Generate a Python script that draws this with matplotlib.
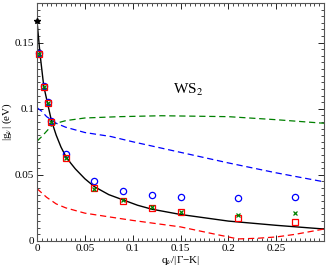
import numpy as np
import matplotlib.pyplot as plt
from matplotlib.ticker import MultipleLocator

plt.rcParams['font.family'] = ['Liberation Serif', 'DejaVu Serif']
plt.rcParams['mathtext.fontset'] = 'stix'

# computed points
q_pts = [0.002, 0.007, 0.011, 0.015, 0.03, 0.06, 0.09, 0.12, 0.15, 0.21, 0.27]
g_blue = [0.142, 0.117, 0.105, 0.091, 0.066, 0.0455, 0.038, 0.035, 0.0335, 0.0327, 0.033]
g_red = [0.1417, 0.1167, 0.1045, 0.090, 0.063, 0.040, 0.030, 0.025, 0.022, 0.0174, 0.0144]
g_green = [0.1417, 0.1167, 0.1045, 0.090, 0.063, 0.039, 0.031, 0.026, 0.022, 0.0197, 0.0212]

# model curves
q_black = [0.0, 0.003, 0.007, 0.011, 0.015, 0.02, 0.025, 0.03, 0.035, 0.04, 0.05, 0.06,
           0.075, 0.09, 0.105, 0.12, 0.15, 0.2, 0.25, 0.3]
g_black = [0.166, 0.142, 0.117, 0.104, 0.091, 0.080, 0.071, 0.064, 0.059, 0.0545, 0.047, 0.041,
           0.035, 0.031, 0.027, 0.0240, 0.0200, 0.0150, 0.0118, 0.009]

q_blue = [0.0, 0.005, 0.01, 0.02, 0.03, 0.05, 0.077, 0.1, 0.15, 0.2, 0.25, 0.3]
g_blue_line = [0.1008, 0.098, 0.094, 0.089, 0.086, 0.082, 0.079, 0.075, 0.067, 0.059, 0.0515, 0.0447]

q_green = [0.0, 0.005, 0.01, 0.015, 0.02, 0.03, 0.05, 0.086, 0.13, 0.2, 0.25, 0.3]
g_green_line = [0.0755, 0.079, 0.083, 0.087, 0.089, 0.091, 0.093, 0.094, 0.0947, 0.094, 0.0917, 0.089]

q_red = [0.0, 0.01, 0.02, 0.03, 0.05, 0.077, 0.1, 0.15, 0.18, 0.21, 0.23, 0.25, 0.27, 0.3]
g_red_line = [0.0395, 0.033, 0.028, 0.025, 0.021, 0.018, 0.0155, 0.0106, 0.006, 0.0015, 0.002, 0.003, 0.005, 0.009]

fig = plt.figure(figsize=(3.28, 2.71), dpi=100)
ax = fig.add_axes([0.113, 0.111, 0.875, 0.878])

ax.plot(q_black, g_black, color='black', lw=1.0)
ax.plot(q_blue, g_blue_line, color='blue', lw=0.9, ls=(0, (5, 3)))
ax.plot(q_green, g_green_line, color='green', lw=0.9, ls=(0, (5, 3)))
ax.plot(q_red, g_red_line, color='red', lw=0.9, ls=(0, (5, 3)))

ax.plot(q_pts, g_blue, 'o', mfc='none', mec='blue', ms=4.5, mew=0.9, clip_on=False)
ax.plot(q_pts, g_red, 's', mfc='none', mec='red', ms=4.5, mew=0.9, clip_on=False)
ax.plot(q_pts, g_green, 'x', color='green', ms=3.5, mew=0.9, clip_on=False)
ax.plot([0.0], [0.166], '*', color='black', ms=4, clip_on=False, zorder=5)

ax.text(0.142, 0.111, r'WS$_2$', fontsize=11)

ax.set_xlim(0, 0.3)
ax.set_ylim(0, 0.18)
ax.xaxis.set_minor_locator(MultipleLocator(0.005))
ax.yaxis.set_minor_locator(MultipleLocator(0.005))
ax.set_xticks([0, 0.05, 0.1, 0.15, 0.2, 0.25])
ax.set_xticklabels(['0', '0.05', '0.1', '0.15', '0.2', '0.25'])
ax.set_yticks([0, 0.05, 0.1, 0.15])
ax.set_yticklabels(['0', '0.05', '0.1', '0.15'])
ax.tick_params(which='both', direction='in', top=True, right=True, labelsize=8, pad=2)
ax.tick_params(which='major', length=4, width=0.6)
ax.tick_params(which='minor', length=2, width=0.5)
for s in ax.spines.values():
    s.set_linewidth(0.8)
    s.set_color('#555555')

ax.set_xlabel(r'q$_\nu$/|Γ−K|', fontsize=8, labelpad=1)
ax.set_ylabel(r'|g$_\nu$| (eV)', fontsize=8, labelpad=1)

fig.savefig('out.png', dpi=100)
